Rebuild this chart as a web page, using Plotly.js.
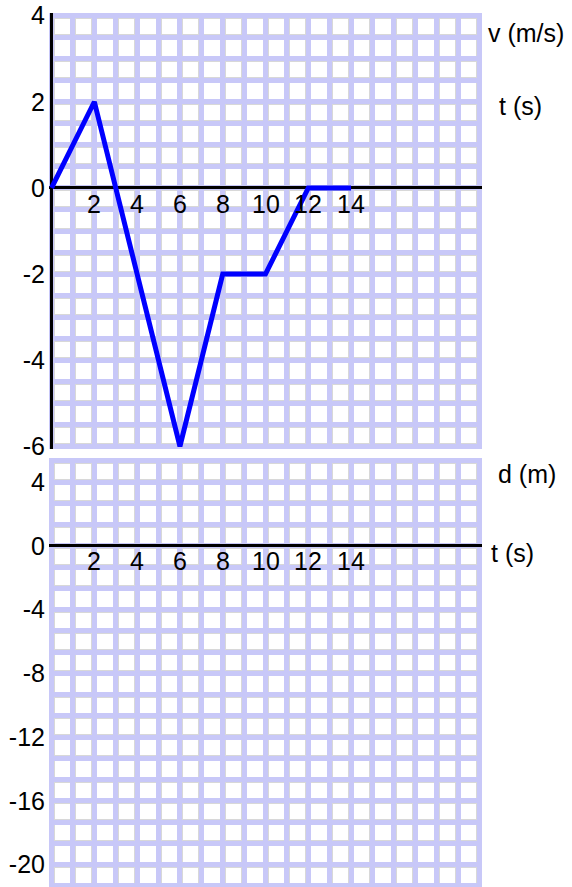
<!DOCTYPE html>
<html>
<head>
<meta charset="utf-8">
<script src="https://cdn.plot.ly/plotly-3.0.1.min.js"></script>
<style>html,body{margin:0;padding:0;background:#fff;}#chart{width:572px;height:887px;}</style>
</head>
<body>
<div id="chart"></div>
<script>
// ---- data ----
const timeS = [0, 2, 6, 8, 10, 12, 14];
const velocityMS = [0, 2, -6, -2, -2, 0, 0];
const timeTickVals = [2, 4, 6, 8, 10, 12, 14];
const timeTickText = ['2', '4', '6', '8', '10', '12', '14'];
const vTickVals = [-6, -4, -2, 0, 2, 4];
const vTickText = ['-6', '-4', '-2', '0', '2', '4'];
const dTickVals = [-20, -16, -12, -8, -4, 0, 4];
const dTickText = ['-20', '-16', '-12', '-8', '-4', '0', '4'];
const sideLabels = ['v (m/s)', 't (s)', 'd (m)', 't (s)'];

// ---- styling ----
const FONT = '"Liberation Sans", Arial, sans-serif';
const FS = 25;
const LAV = '#c8c8f8';
const GREY = '#d8d8d8';
const topDomain = [0.5011, 1];
const botDomain = [0, 0.4903];
const xRange = [-0.12, 20.12];
const vRange = [-6.06, 4.06];
const dRange = [-21.4, 5.49];

function gridAxis(extra) {
  return Object.assign({
    showgrid: true, zeroline: false, showticklabels: false, ticks: '',
    showline: false, fixedrange: true, tick0: 0
  }, extra);
}

const traces = [
  {x: timeS, y: velocityMS, xaxis: 'x', yaxis: 'y', type: 'scatter', mode: 'lines',
   line: {color: '#0000ff', width: 5}, hoverinfo: 'skip', showlegend: false},
  {x: [], y: [], xaxis: 'x2', yaxis: 'y2', type: 'scatter', mode: 'lines', showlegend: false, hoverinfo: 'skip'},
  {x: [], y: [], xaxis: 'x3', yaxis: 'y3', type: 'scatter', mode: 'lines', showlegend: false, hoverinfo: 'skip'},
  {x: [], y: [], xaxis: 'x4', yaxis: 'y4', type: 'scatter', mode: 'lines', showlegend: false, hoverinfo: 'skip'},
  {x: [], y: [], xaxis: 'x5', yaxis: 'y5', type: 'scatter', mode: 'lines', showlegend: false, hoverinfo: 'skip'},
  {x: [], y: [], xaxis: 'x6', yaxis: 'y6', type: 'scatter', mode: 'lines', showlegend: false, hoverinfo: 'skip'}
];

const annotations = [];
timeTickVals.forEach((tv, i) => {
  annotations.push({x: tv, y: 0, xref: 'x', yref: 'y', text: timeTickText[i], showarrow: false,
    yshift: -16, xanchor: 'center', yanchor: 'middle', font: {family: FONT, size: FS, color: '#000'}});
  annotations.push({x: tv, y: 0, xref: 'x2', yref: 'y2', text: timeTickText[i], showarrow: false,
    yshift: -15, xanchor: 'center', yanchor: 'middle', font: {family: FONT, size: FS, color: '#000'}});
});
const sidePos = [[1.009, 0.9771], [1.035, 0.8936], [1.032, 0.4725], [1.016, 0.3822]];
sideLabels.forEach((s, i) => {
  annotations.push({x: sidePos[i][0], y: sidePos[i][1], xref: 'paper', yref: 'paper', text: s,
    showarrow: false, xanchor: 'left', yanchor: 'middle', font: {family: FONT, size: FS, color: '#000'}});
});

const layout = {
  width: 572, height: 887,
  margin: {l: 49, r: 90, t: 13, b: 0},
  paper_bgcolor: '#ffffff', plot_bgcolor: '#ffffff',
  showlegend: false,
  font: {family: FONT, size: FS, color: '#000'},
  xaxis: {domain: [0, 1], anchor: 'y', range: xRange, showgrid: false, showticklabels: false, ticks: '',
    zeroline: true, zerolinecolor: '#000', zerolinewidth: 3, showline: false, fixedrange: true},
  yaxis: {domain: topDomain, anchor: 'x', range: vRange, showgrid: false, tickmode: 'array',
    tickvals: vTickVals, ticktext: vTickText, ticks: '', ticklabelstandoff: 3,
    zeroline: true, zerolinecolor: '#000', zerolinewidth: 3, showline: false, fixedrange: true,
    tickfont: {family: FONT, size: FS, color: '#000'}},
  xaxis2: {domain: [0, 1], anchor: 'y2', range: xRange, showgrid: false, showticklabels: false, ticks: '',
    zeroline: false, showline: false, fixedrange: true},
  yaxis2: {domain: botDomain, anchor: 'x2', range: dRange, showgrid: false, tickmode: 'array',
    tickvals: dTickVals, ticktext: dTickText, ticks: '', ticklabelstandoff: 3,
    zeroline: true, zerolinecolor: '#000', zerolinewidth: 3, showline: false, fixedrange: true,
    tickfont: {family: FONT, size: FS, color: '#000'}},
  xaxis3: gridAxis({overlaying: 'x', anchor: 'y3', domain: [0, 1], range: xRange, dtick: 1, gridcolor: GREY, gridwidth: 6}),
  yaxis3: gridAxis({overlaying: 'y', anchor: 'x3', domain: topDomain, range: vRange, dtick: 0.5, gridcolor: GREY, gridwidth: 6}),
  xaxis4: gridAxis({overlaying: 'x2', anchor: 'y4', domain: [0, 1], range: xRange, dtick: 1, gridcolor: GREY, gridwidth: 6}),
  yaxis4: gridAxis({overlaying: 'y2', anchor: 'x4', domain: botDomain, range: dRange, dtick: 4 / 3, gridcolor: GREY, gridwidth: 6}),
  xaxis5: gridAxis({overlaying: 'x', anchor: 'y5', domain: [0, 1], range: xRange, dtick: 1, gridcolor: LAV, gridwidth: 5}),
  yaxis5: gridAxis({overlaying: 'y', anchor: 'x5', domain: topDomain, range: vRange, dtick: 0.5, gridcolor: LAV, gridwidth: 5}),
  xaxis6: gridAxis({overlaying: 'x2', anchor: 'y6', domain: [0, 1], range: xRange, dtick: 1, gridcolor: LAV, gridwidth: 5}),
  yaxis6: gridAxis({overlaying: 'y2', anchor: 'x6', domain: botDomain, range: dRange, dtick: 4 / 3, gridcolor: LAV, gridwidth: 5}),
  annotations: annotations
};

Plotly.newPlot('chart', traces, layout, {staticPlot: true, displayModeBar: false});
</script>
</body>
</html>
